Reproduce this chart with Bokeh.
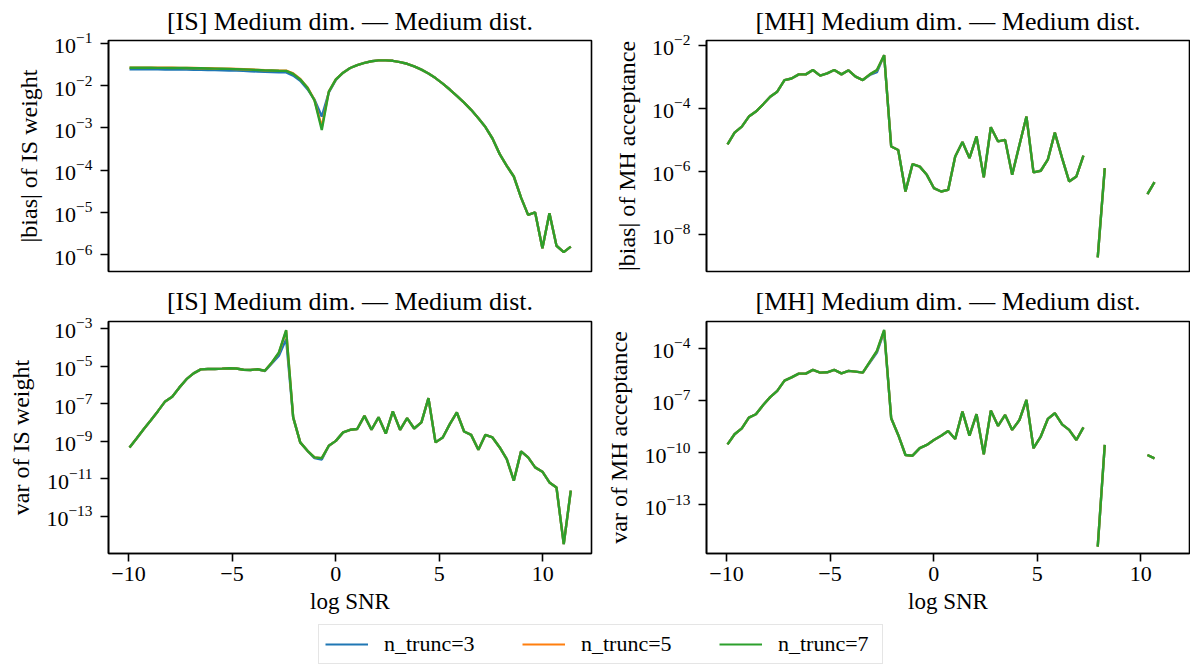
from bokeh.plotting import figure
from bokeh.models import Range1d, FixedTicker, Legend, LegendItem, Title
from bokeh.layouts import column, row
from bokeh.embed import file_html
from bokeh.resources import INLINE

FONT = "Liberation Serif"
LEGEND_FONT = "'Liberation Serif', serif"
NAN = float("nan")

# ---------------- data (y values stored as log10 of the plotted quantity) ----------------
log_snr = [-9.95, -9.61, -9.26, -8.92, -8.58, -8.23, -7.89, -7.55, -7.20, -6.86,
           -6.51, -6.17, -5.83, -5.48, -5.14, -4.80, -4.45, -4.11, -3.77, -3.42,
           -3.08, -2.74, -2.39, -2.05, -1.71, -1.36, -1.02, -0.67, -0.33, 0.01,
           0.36, 0.70, 1.04, 1.39, 1.73, 2.07, 2.42, 2.76, 3.11, 3.45,
           3.79, 4.14, 4.48, 4.82, 5.17, 5.51, 5.85, 6.20, 6.54, 6.89,
           7.23, 7.57, 7.92, 8.26, 8.60, 8.95, 9.29, 9.63, 9.98, 10.32,
           10.66, 11.01, 11.35]

series_labels = ["n_trunc=3", "n_trunc=5", "n_trunc=7"]
series_colors = ["#1f77b4", "#ff7f0e", "#2ca02c"]

is_bias_n3 = [-1.612, -1.612, -1.613, -1.613, -1.614, -1.615, -1.616, -1.617, -1.619, -1.622,
              -1.625, -1.628, -1.631, -1.635, -1.639, -1.643, -1.649, -1.657, -1.665, -1.673,
              -1.677, -1.682, -1.685, -1.76, -1.88, -2.08, -2.33, -2.73, -2.16, -1.86,
              -1.69, -1.58, -1.51, -1.46, -1.42, -1.40, -1.40, -1.41, -1.44, -1.48,
              -1.54, -1.62, -1.71, -1.82, -1.95, -2.09, -2.24, -2.40, -2.57, -2.77,
              -2.98, -3.25, -3.62, -3.90, -4.15, -4.65, -5.06, -5.00, -5.85, -5.02,
              -5.79, -5.94, -5.81]
is_bias_n5 = [-1.572, -1.572, -1.573, -1.573, -1.574, -1.575, -1.576, -1.577, -1.579, -1.582,
              -1.585, -1.588, -1.591, -1.595, -1.599, -1.603, -1.609, -1.617, -1.625, -1.633,
              -1.637, -1.642, -1.645, -1.71, -1.84, -2.04, -2.34, -2.98, -2.14, -1.85,
              -1.69, -1.58, -1.51, -1.46, -1.42, -1.40, -1.40, -1.41, -1.44, -1.48,
              -1.54, -1.62, -1.71, -1.82, -1.95, -2.09, -2.24, -2.40, -2.57, -2.77,
              -2.98, -3.25, -3.62, -3.90, -4.15, -4.65, -5.06, -5.00, -5.85, -5.02,
              -5.79, -5.94, -5.81]
is_bias_n7 = [-1.575, -1.575, -1.576, -1.576, -1.577, -1.578, -1.579, -1.580, -1.582, -1.585,
              -1.588, -1.591, -1.594, -1.598, -1.602, -1.606, -1.612, -1.620, -1.628, -1.636,
              -1.640, -1.645, -1.648, -1.72, -1.85, -2.05, -2.35, -3.05, -2.14, -1.85,
              -1.69, -1.58, -1.51, -1.46, -1.42, -1.40, -1.40, -1.41, -1.44, -1.48,
              -1.54, -1.62, -1.71, -1.82, -1.95, -2.09, -2.24, -2.40, -2.57, -2.77,
              -2.98, -3.25, -3.62, -3.90, -4.15, -4.65, -5.06, -5.00, -5.85, -5.02,
              -5.79, -5.94, -5.81]

mh_bias_n3 = [-5.15, -4.78, -4.59, -4.27, -4.11, -3.88, -3.64, -3.48, -3.11, -3.06,
              -2.93, -2.93, -2.79, -2.97, -2.90, -2.79, -2.93, -2.80, -3.00, -3.11,
              -2.95, -2.86, -2.32, -5.22, -5.33, -6.65, -5.78, -5.86, -6.12, -6.54,
              -6.65, -6.60, -5.54, -5.08, -5.59, -4.90, -6.20, -4.61, -5.06, -5.01,
              -6.12, -5.17, -4.27, -6.04, -5.99, -5.64, -4.78, -5.59, -6.33, -6.17,
              -5.51, NAN, -8.74, -5.91, NAN, NAN, NAN, NAN, NAN, -6.73,
              -6.35, NAN, NAN]
mh_bias_n5 = [-5.15, -4.78, -4.59, -4.27, -4.11, -3.88, -3.64, -3.48, -3.11, -3.06,
              -2.93, -2.93, -2.79, -2.97, -2.90, -2.79, -2.93, -2.80, -3.00, -3.11,
              -2.93, -2.80, -2.32, -5.22, -5.33, -6.65, -5.78, -5.86, -6.12, -6.54,
              -6.65, -6.60, -5.54, -5.08, -5.59, -4.90, -6.20, -4.61, -5.06, -5.01,
              -6.12, -5.17, -4.27, -6.04, -5.99, -5.64, -4.78, -5.59, -6.33, -6.17,
              -5.51, NAN, -8.74, -5.91, NAN, NAN, NAN, NAN, NAN, -6.73,
              -6.35, NAN, NAN]
mh_bias_n7 = [-5.15, -4.78, -4.59, -4.27, -4.11, -3.88, -3.64, -3.48, -3.11, -3.06,
              -2.93, -2.93, -2.79, -2.97, -2.90, -2.79, -2.93, -2.80, -3.00, -3.11,
              -2.93, -2.79, -2.32, -5.22, -5.33, -6.65, -5.78, -5.86, -6.12, -6.54,
              -6.65, -6.60, -5.54, -5.08, -5.59, -4.90, -6.20, -4.61, -5.06, -5.01,
              -6.12, -5.17, -4.27, -6.04, -5.99, -5.64, -4.78, -5.59, -6.33, -6.17,
              -5.51, NAN, -8.74, -5.91, NAN, NAN, NAN, NAN, NAN, -6.73,
              -6.35, NAN, NAN]

is_var_n3 = [-9.33, -8.85, -8.35, -7.88, -7.40, -6.88, -6.63, -6.15, -5.70, -5.39,
             -5.18, -5.16, -5.16, -5.14, -5.12, -5.13, -5.20, -5.21, -5.17, -5.27,
             -4.86, -4.45, -3.57, -7.73, -9.06, -9.51, -9.90, -9.97, -9.24, -8.98,
             -8.53, -8.39, -8.35, -7.65, -8.39, -7.73, -8.59, -7.41, -8.39, -7.77,
             -8.32, -8.00, -6.71, -9.06, -8.80, -8.09, -7.47, -8.48, -8.66, -9.45,
             -8.66, -8.80, -9.33, -9.95, -11.10, -9.54, -9.86, -10.39, -10.62, -11.19,
             -11.46, -14.47, -11.63]
is_var_n5 = [-9.33, -8.85, -8.35, -7.88, -7.40, -6.88, -6.63, -6.15, -5.70, -5.39,
             -5.18, -5.16, -5.16, -5.14, -5.12, -5.13, -5.20, -5.21, -5.17, -5.25,
             -4.82, -4.30, -3.12, -7.73, -9.06, -9.51, -9.86, -9.90, -9.24, -8.98,
             -8.53, -8.39, -8.35, -7.65, -8.39, -7.73, -8.59, -7.41, -8.39, -7.77,
             -8.32, -8.00, -6.71, -9.06, -8.80, -8.09, -7.47, -8.48, -8.66, -9.45,
             -8.66, -8.80, -9.33, -9.95, -11.10, -9.54, -9.86, -10.39, -10.62, -11.19,
             -11.46, -14.47, -11.63]
is_var_n7 = [-9.33, -8.85, -8.35, -7.88, -7.40, -6.88, -6.63, -6.15, -5.70, -5.39,
             -5.18, -5.16, -5.16, -5.14, -5.12, -5.13, -5.20, -5.21, -5.17, -5.25,
             -4.81, -4.28, -3.09, -7.73, -9.06, -9.51, -9.86, -9.90, -9.24, -8.98,
             -8.53, -8.39, -8.35, -7.65, -8.39, -7.73, -8.59, -7.41, -8.39, -7.77,
             -8.32, -8.00, -6.71, -9.06, -8.80, -8.09, -7.47, -8.48, -8.66, -9.45,
             -8.66, -8.80, -9.33, -9.95, -11.10, -9.54, -9.86, -10.39, -10.62, -11.19,
             -11.46, -14.47, -11.63]

mh_var_n3 = [-9.52, -8.94, -8.60, -7.98, -7.79, -7.26, -6.81, -6.45, -5.86, -5.67,
             -5.46, -5.46, -5.24, -5.40, -5.38, -5.24, -5.44, -5.30, -5.34, -5.40,
             -4.82, -4.25, -3.05, -8.02, -8.98, -10.13, -10.17, -9.74, -9.55, -9.27,
             -9.02, -8.75, -9.21, -7.64, -9.02, -7.79, -10.09, -7.58, -8.46, -7.83,
             -8.69, -8.12, -6.97, -9.74, -9.07, -8.06, -7.73, -8.37, -8.69, -9.27,
             -8.54, NAN, -15.39, -9.55, NAN, NAN, NAN, NAN, NAN, -10.13,
             -10.32, NAN, NAN]
mh_var_n5 = [-9.52, -8.94, -8.60, -7.98, -7.79, -7.26, -6.81, -6.45, -5.86, -5.67,
             -5.46, -5.46, -5.24, -5.40, -5.38, -5.24, -5.44, -5.30, -5.34, -5.40,
             -4.78, -4.17, -2.97, -8.02, -8.98, -10.13, -10.17, -9.74, -9.55, -9.27,
             -9.02, -8.75, -9.21, -7.64, -9.02, -7.79, -10.09, -7.58, -8.46, -7.83,
             -8.69, -8.12, -6.97, -9.74, -9.07, -8.06, -7.73, -8.37, -8.69, -9.27,
             -8.54, NAN, -15.39, -9.55, NAN, NAN, NAN, NAN, NAN, -10.13,
             -10.32, NAN, NAN]
mh_var_n7 = [-9.52, -8.94, -8.60, -7.98, -7.79, -7.26, -6.81, -6.45, -5.86, -5.67,
             -5.46, -5.46, -5.24, -5.40, -5.38, -5.24, -5.44, -5.30, -5.34, -5.40,
             -4.77, -4.15, -2.95, -8.02, -8.98, -10.13, -10.17, -9.74, -9.55, -9.27,
             -9.02, -8.75, -9.21, -7.64, -9.02, -7.79, -10.09, -7.58, -8.46, -7.83,
             -8.69, -8.12, -6.97, -9.74, -9.07, -8.06, -7.73, -8.37, -8.69, -9.27,
             -8.54, NAN, -15.39, -9.55, NAN, NAN, NAN, NAN, NAN, -10.13,
             -10.32, NAN, NAN]

x_ticks = [-10, -5, 0, 5, 10]
x_tick_text = {-10: "\u221210", -5: "\u22125", 0: "0", 5: "5", 10: "10"}
title_is = "[IS] Medium dim. \u2014 Medium dist."
title_mh = "[MH] Medium dim. \u2014 Medium dist."

# ---------------- plotting ----------------
X_LO, X_HI = -10.965, 12.35
LW = 2.4


def make_panel(width, height, mbl, mbr, mbt, mbb, title_text, title_standoff, ylabel,
               ylo, yhi, yticks, series, show_x):
    p = figure(width=width, height=height, y_axis_type="log",
               x_range=Range1d(X_LO, X_HI), y_range=Range1d(10 ** ylo, 10 ** yhi),
               output_backend="svg", toolbar_location=None,
               min_border_left=mbl, min_border_right=mbr,
               min_border_top=mbt, min_border_bottom=mbb)
    p.add_layout(Title(text=title_text, align="center", text_font=FONT,
                       text_font_size="26px", text_font_style="normal",
                       text_color="black", standoff=title_standoff), "above")
    for col, ys in zip(series_colors, series):
        p.line(log_snr, [10 ** v for v in ys], line_color=col, line_width=LW)
    p.xgrid.visible = False
    p.ygrid.visible = False
    p.outline_line_color = "black"
    p.outline_line_alpha = 1.0
    p.outline_line_width = 1.6
    p.background_fill_color = "white"
    p.border_fill_color = "white"

    ya = p.yaxis[0]
    ya.ticker = FixedTicker(ticks=yticks)
    ya.axis_label = ylabel
    ya.axis_label_text_font = FONT
    ya.axis_label_text_font_size = "24px"
    ya.axis_label_text_font_style = "normal"
    ya.axis_label_text_color = "black"
    ya.axis_label_standoff = 9
    ya.major_label_text_font = FONT
    ya.major_label_text_font_size = "22px"
    ya.major_label_text_color = "black"
    ya.major_label_standoff = 8
    ya.major_tick_out = 8
    ya.major_tick_in = 0
    ya.major_tick_line_width = 1.6
    ya.major_tick_line_color = "black"
    ya.minor_tick_line_color = None
    ya.axis_line_color = "black"
    ya.axis_line_width = 1.6

    xa = p.xaxis[0]
    if show_x:
        xa.ticker = FixedTicker(ticks=x_ticks)
        xa.major_label_overrides = x_tick_text
        xa.axis_label = "log SNR"
        xa.axis_label_text_font = FONT
        xa.axis_label_text_font_size = "23px"
        xa.axis_label_text_font_style = "normal"
        xa.axis_label_text_color = "black"
        xa.axis_label_standoff = 5
        xa.major_label_text_font = FONT
        xa.major_label_text_font_size = "22px"
        xa.major_label_text_color = "black"
        xa.major_label_standoff = 5
        xa.major_tick_out = 8
        xa.major_tick_in = 0
        xa.major_tick_line_width = 1.6
        xa.major_tick_line_color = "black"
        xa.minor_tick_line_color = None
        xa.axis_line_color = "black"
        xa.axis_line_width = 1.6
    else:
        xa.visible = False
    return p


p1 = make_panel(600, 276, 108, 9, 39, 5, title_is, 9, "|bias| of IS weight",
                -6.40, -0.929, [1e-6, 1e-5, 1e-4, 1e-3, 1e-2, 1e-1],
                [is_bias_n3, is_bias_n5, is_bias_n7], False)
p2 = make_panel(590, 276, 106, 1, 39, 5, title_mh, 9, "|bias| of MH acceptance",
                -9.19, -1.854, [1e-8, 1e-6, 1e-4, 1e-2],
                [mh_bias_n3, mh_bias_n5, mh_bias_n7], False)
p3 = make_panel(600, 342, 108, 9, 45, 65, title_is, 12, "var of IS weight",
                -14.97, -2.632, [1e-13, 1e-11, 1e-9, 1e-7, 1e-5, 1e-3],
                [is_var_n3, is_var_n5, is_var_n7], True)
p4 = make_panel(590, 342, 106, 1, 45, 65, title_mh, 12, "var of MH acceptance",
                -15.786, -2.465, [1e-13, 1e-10, 1e-7, 1e-4],
                [mh_var_n3, mh_var_n5, mh_var_n7], True)

# legend strip (its sample lines lie outside the visible range)
pl = figure(width=1190, height=48, x_range=Range1d(0, 1), y_range=Range1d(0, 1),
            output_backend="svg", toolbar_location=None,
            x_axis_location=None, y_axis_location=None,
            min_border_left=0, min_border_right=0, min_border_top=0, min_border_bottom=0)
pl.xgrid.visible = False
pl.ygrid.visible = False
pl.outline_line_color = None
items = []
for lab, col in zip(series_labels, series_colors):
    r = pl.line(x=[5, 6], y=[5, 6], line_color=col, line_width=2.0)
    items.append(LegendItem(label=lab, renderers=[r]))
legend = Legend(items=items, orientation="horizontal", location=(318, 2),
                label_text_font=LEGEND_FONT, label_text_font_size="22px",
                label_text_font_style="normal",
                label_text_color="black",
                glyph_width=43, glyph_height=20, label_standoff=16,
                label_width=98, spacing=40, padding=6, margin=0,
                border_line_color="#cccccc", border_line_width=1.8,
                background_fill_color="white", background_fill_alpha=1.0)
pl.add_layout(legend)

layout = column(row(p1, p2), row(p3, p4), pl)

open("out.html", "w").write(file_html(layout, INLINE))
